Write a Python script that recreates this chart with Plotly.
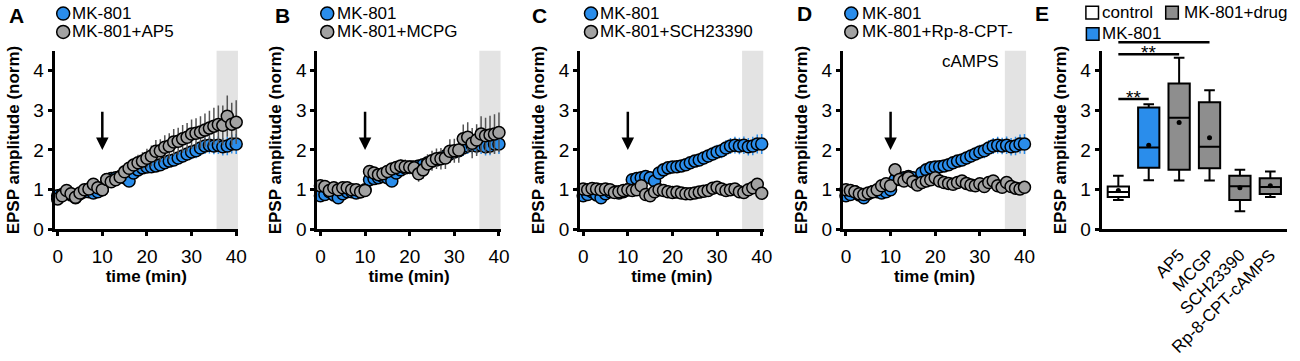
import plotly.graph_objects as go

W, H = 1300, 361

# ---------------- data ----------------
time_min = list(range(41))

mk801 = [0.85, 0.88, 0.95, 0.87, 0.80, 0.90, 0.95, 0.95, 0.92, 0.95, 1.00,
         1.25, 1.28, 1.30, 1.33, 1.30, 1.22, 1.42, 1.50, 1.55, 1.57, 1.58,
         1.60, 1.63, 1.68, 1.72, 1.75, 1.80, 1.85, 1.90, 1.95, 1.98, 2.05,
         2.10, 2.12, 2.10, 2.12, 2.08, 2.10, 2.15, 2.15]
mk801_err = [0.05, 0.05, 0.06, 0.05, 0.05, 0.06, 0.06, 0.06, 0.06, 0.06, 0.07,
             0.08, 0.09, 0.09, 0.10, 0.10, 0.10, 0.11, 0.12, 0.12, 0.13, 0.13,
             0.14, 0.14, 0.15, 0.15, 0.16, 0.17, 0.17, 0.18, 0.18, 0.19, 0.20,
             0.20, 0.21, 0.21, 0.22, 0.22, 0.23, 0.24, 0.25]

ap5 = [0.77, 0.85, 0.98, 0.90, 0.81, 0.92, 1.00, 1.02, 1.14, 1.05, 1.00,
       1.26, 1.20, 1.25, 1.32, 1.45, 1.54, 1.62, 1.68, 1.72, 1.79, 1.85,
       1.97, 1.98, 2.07, 2.10, 2.20, 2.22, 2.28, 2.32, 2.40, 2.42, 2.45,
       2.50, 2.55, 2.60, 2.64, 2.62, 2.85, 2.65, 2.70]
ap5_err = [0.05, 0.05, 0.06, 0.06, 0.06, 0.06, 0.07, 0.07, 0.08, 0.08, 0.08,
           0.10, 0.10, 0.11, 0.12, 0.14, 0.16, 0.18, 0.20, 0.22, 0.24, 0.26,
           0.28, 0.29, 0.30, 0.32, 0.33, 0.34, 0.35, 0.36, 0.37, 0.38, 0.40,
           0.42, 0.44, 0.46, 0.48, 0.50, 0.52, 0.54, 0.55]

mcpg = [1.10, 1.08, 0.98, 1.05, 1.00, 1.05, 1.05, 1.00, 1.00, 0.95, 0.98,
        1.46, 1.42, 1.38, 1.40, 1.46, 1.52, 1.56, 1.60, 1.58, 1.57, 1.55,
        1.40, 1.50, 1.65, 1.73, 1.78, 1.78, 1.80, 1.97, 1.98, 2.00, 2.28,
        2.32, 2.17, 2.25, 2.40, 2.36, 2.38, 2.40, 2.44]
mcpg_err = [0.06, 0.06, 0.06, 0.06, 0.06, 0.06, 0.06, 0.06, 0.06, 0.06, 0.06,
            0.12, 0.12, 0.13, 0.13, 0.14, 0.15, 0.16, 0.16, 0.18, 0.18, 0.20,
            0.20, 0.22, 0.24, 0.25, 0.26, 0.27, 0.28, 0.30, 0.30, 0.32, 0.36,
            0.38, 0.38, 0.40, 0.45, 0.45, 0.48, 0.50, 0.50]

sch = [1.02, 1.00, 1.03, 1.02, 1.00, 1.02, 1.00, 0.93, 0.95, 0.98, 1.00,
       0.98, 1.00, 1.10, 0.88, 0.85, 0.95, 1.00, 0.98, 0.95, 0.93, 0.94,
       0.92, 0.90, 0.90, 0.92, 0.94, 0.96, 0.98, 1.04, 1.06, 1.02, 0.98,
       1.00, 1.02, 0.95, 0.93, 1.00, 1.05, 1.14, 0.91]
sch_err = [0.05, 0.05, 0.05, 0.05, 0.05, 0.05, 0.05, 0.05, 0.05, 0.05, 0.06,
           0.06, 0.06, 0.06, 0.07, 0.07, 0.07, 0.07, 0.07, 0.07, 0.08, 0.08,
           0.08, 0.08, 0.08, 0.08, 0.08, 0.08, 0.09, 0.09, 0.09, 0.09, 0.09,
           0.09, 0.10, 0.10, 0.10, 0.10, 0.10, 0.10, 0.10]

rp = [1.00, 0.98, 0.95, 0.90, 0.88, 0.92, 0.95, 1.00, 1.10, 1.15, 1.10,
      1.50, 1.26, 1.22, 1.30, 1.20, 1.12, 1.18, 1.22, 1.25, 1.30, 1.22,
      1.18, 1.16, 1.14, 1.18, 1.22, 1.16, 1.12, 1.10, 1.15, 1.08, 1.18,
      1.22, 1.10, 1.06, 1.18, 1.08, 1.04, 1.02, 1.06]
rp_err = [0.05, 0.05, 0.05, 0.05, 0.05, 0.05, 0.05, 0.05, 0.06, 0.06, 0.06,
          0.08, 0.07, 0.07, 0.07, 0.07, 0.07, 0.07, 0.08, 0.08, 0.08, 0.08,
          0.08, 0.08, 0.08, 0.08, 0.08, 0.08, 0.08, 0.08, 0.08, 0.08, 0.09,
          0.09, 0.09, 0.09, 0.09, 0.09, 0.09, 0.09, 0.09]

panel_letters = ["A", "B", "C", "D", "E"]
drug_names = ["MK-801+AP5", "MK-801+MCPG", "MK-801+SCH23390", "MK-801+Rp-8-CPT-"]
drug_series = [ap5, mcpg, sch, rp]
drug_errs = [ap5_err, mcpg_err, sch_err, rp_err]

# panel E box statistics
box_cats = ["control", "MK-801", "AP5", "MCGP", "SCH23390", "Rp-8-CPT-cAMPS"]
box_ticktext = ["", "", "AP5", "MCGP", "SCH23390", "Rp-8-CPT-cAMPS"]
box_low = [0.74, 1.24, 1.23, 1.23, 0.46, 0.82]
box_q1 = [0.82, 1.55, 1.50, 1.54, 0.74, 0.89]
box_median = [0.94, 2.06, 2.81, 2.08, 1.09, 1.07]
box_q3 = [1.08, 3.07, 3.67, 3.20, 1.35, 1.29]
box_high = [1.35, 3.15, 4.32, 3.50, 1.50, 1.46]
box_mean = [0.98, 2.12, 2.69, 2.31, 1.05, 1.10]

# significance brackets
sig_from = ["control", "control", "control"]
sig_to = ["MK-801", "AP5", "MCGP"]
sig_level = [3.28, 4.41, 4.71]
sig_label = ["**", "**", "*"]
sig_label_x = [0.5, 1.0, 1.65]

# ---------------- style ----------------
FONT = "Liberation Sans, Arial, sans-serif"
FS = 17
BLUE = "#2A8DEB"
GRAY = "#A2A2A2"
BOX_GRAY = "#8E8E8E"
SHADE = "#E3E3E3"
Y_MAX = 4.5

x_dom_px = [(53, 238), (318, 503), (583, 768), (848, 1033), (1109, 1296)]
y_top_px, y_bot_px = 52.2, 236.7
ydom = [1 - y_bot_px / H, 1 - y_top_px / H]


def pxx(x):
    return x / W


def pxy(y):
    return 1 - y / H


fig = go.Figure()
shapes = []
annotations = []

axis_common = dict(
    showline=True, linewidth=3, linecolor="black", ticks="outside",
    ticklen=4, tickwidth=2.5, tickcolor="black", showgrid=False,
    zeroline=False, tickfont=dict(family=FONT, size=FS + 2, color="black"),
)
title_font = dict(family=FONT, size=FS, color="black", weight="bold")

layout_axes = {}
for i in range(4):
    n = i + 1
    xa, ya = f"x{n}", f"y{n}"
    fig.add_trace(go.Scatter(
        x=time_min, y=mk801, mode="markers", xaxis=xa, yaxis=ya,
        marker=dict(size=12, color=BLUE, line=dict(color="black", width=1.5)),
        error_y=dict(type="data", array=mk801_err, color=BLUE, thickness=1.5, width=0),
        showlegend=False, cliponaxis=False, name="MK-801"))
    fig.add_trace(go.Scatter(
        x=time_min, y=drug_series[i], mode="markers", xaxis=xa, yaxis=ya,
        marker=dict(size=12, color=GRAY, line=dict(color="black", width=1.5)),
        error_y=dict(type="data", array=drug_errs[i], color="#555555", thickness=1.5, width=0),
        showlegend=False, cliponaxis=False, name=drug_names[i]))
    shapes.append(dict(type="rect", xref=xa, yref=ya, x0=35.6, x1=40.4, y0=0, y1=Y_MAX,
                       fillcolor=SHADE, line=dict(width=0), layer="below"))
    annotations.append(dict(x=10, y=2.0, ax=10, ay=3.0, xref=xa, yref=ya, axref=xa, ayref=ya,
                            showarrow=True, arrowhead=2, arrowsize=1, arrowwidth=2.5,
                            arrowcolor="black", text=""))
    x0, x1 = x_dom_px[i]
    layout_axes[f"xaxis{n if n > 1 else ''}"] = dict(
        axis_common, domain=[pxx(x0), pxx(x1)], range=[-0.7, 40.4], anchor=ya,
        tickvals=[0, 10, 20, 30, 40], ticklabelstandoff=4,
        title=dict(text="time (min)", standoff=0, font=title_font))
    layout_axes[f"yaxis{n if n > 1 else ''}"] = dict(
        axis_common, domain=ydom, range=[0, Y_MAX], anchor=xa,
        tickvals=[0, 1, 2, 3, 4],
        title=dict(text="EPSP amplitude (norm)", standoff=10, font=title_font))

# ---------------- panel E ----------------
fig.add_trace(go.Box(
    x=box_cats[0:1], q1=box_q1[0:1], median=box_median[0:1], q3=box_q3[0:1],
    lowerfence=box_low[0:1], upperfence=box_high[0:1], xaxis="x5", yaxis="y5",
    fillcolor="white", line=dict(color="black", width=2), width=0.7,
    whiskerwidth=0.5, boxpoints=False, showlegend=False, name="control"))
fig.add_trace(go.Box(
    x=box_cats[1:2], q1=box_q1[1:2], median=box_median[1:2], q3=box_q3[1:2],
    lowerfence=box_low[1:2], upperfence=box_high[1:2], xaxis="x5", yaxis="y5",
    fillcolor=BLUE, line=dict(color="black", width=2), width=0.7,
    whiskerwidth=0.5, boxpoints=False, showlegend=False, name="MK-801"))
fig.add_trace(go.Box(
    x=box_cats[2:], q1=box_q1[2:], median=box_median[2:], q3=box_q3[2:],
    lowerfence=box_low[2:], upperfence=box_high[2:], xaxis="x5", yaxis="y5",
    fillcolor=BOX_GRAY, line=dict(color="black", width=2), width=0.7,
    whiskerwidth=0.5, boxpoints=False, showlegend=False, name="MK-801+drug"))
fig.add_trace(go.Scatter(
    x=box_cats, y=box_mean, mode="markers", xaxis="x5", yaxis="y5",
    marker=dict(size=5, color="black"), showlegend=False, name="mean"))

x0, x1 = x_dom_px[4]
layout_axes["xaxis5"] = dict(
    axis_common, domain=[pxx(x0), pxx(x1)], type="category",
    categoryorder="array", categoryarray=box_cats, range=[-0.55, 5.55], anchor="y5",
    ticks="", tickvals=box_cats, ticktext=box_ticktext, tickangle=-45,
    ticklabelstandoff=6, tickfont=dict(family=FONT, size=FS, color="black"))
layout_axes["yaxis5"] = dict(
    axis_common, domain=ydom, range=[0, Y_MAX], anchor="x5", tickvals=[0, 1, 2, 3, 4],
    title=dict(text="EPSP amplitude (norm)", standoff=10, font=title_font))

for a, b, lvl, lab, lx, ysh in zip(sig_from, sig_to, sig_level, sig_label, sig_label_x,
                                   [2, 2, 3]):
    shapes.append(dict(type="line", xref="x5", yref="y5 domain", x0=a, x1=b,
                       y0=lvl / Y_MAX, y1=lvl / Y_MAX, line=dict(color="black", width=2.5)))
    annotations.append(dict(x=lx, y=lvl, xref="x5", yref="y5", text=lab,
                            showarrow=False, yanchor="middle", yshift=ysh,
                            font=dict(family=FONT, size=19, color="black")))

# ---------------- legends & panel letters ----------------
letter_pos = [(15, 15.5), (282.5, 15.5), (542.5, 15.5), (809, 14), (1049, 13.5)]
for L, (lx, ly) in zip(panel_letters, letter_pos):
    annotations.append(dict(x=pxx(lx), y=pxy(ly), xref="paper", yref="paper", text=L,
                            showarrow=False, xanchor="center", yanchor="middle",
                            font=dict(family=FONT, size=21, color="black", weight="bold")))

leg_circle_x = [61.7, 328, 594, 856.5]
leg_text_x = [69, 335.5, 601.5, 865]
for i in range(4):
    cx, tx = leg_circle_x[i], leg_text_x[i]
    for cy, col, txt in [(14, BLUE, "MK-801"), (33, GRAY, drug_names[i])]:
        shapes.append(dict(type="circle", xref="paper", yref="paper",
                           xsizemode="pixel", ysizemode="pixel",
                           xanchor=pxx(cx), yanchor=pxy(cy), x0=-6.5, x1=6.5, y0=-6.5, y1=6.5,
                           fillcolor=col, line=dict(color="black", width=1.5)))
        annotations.append(dict(x=pxx(tx), y=pxy(cy), xref="paper", yref="paper", text=txt,
                                showarrow=False, xanchor="left", yanchor="middle",
                                font=dict(family=FONT, size=FS, color="black")))
annotations.append(dict(x=pxx(946), y=pxy(63), xref="paper", yref="paper", text="cAMPS",
                        showarrow=False, xanchor="left", yanchor="middle",
                        font=dict(family=FONT, size=FS, color="black")))

# panel E legend squares
sq = [(1099.5, 13, "white", "control", 1107.5),
      (1180, 13, BOX_GRAY, "MK-801+drug", 1190),
      (1100, 35, BLUE, "MK-801", 1107.5)]
for cx, cy, col, txt, tx in sq:
    shapes.append(dict(type="rect", xref="paper", yref="paper",
                       xsizemode="pixel", ysizemode="pixel",
                       xanchor=pxx(cx), yanchor=pxy(cy), x0=-6.3, x1=6.3, y0=-6.3, y1=6.3,
                       fillcolor=col, line=dict(color="black", width=1.5)))
    annotations.append(dict(x=pxx(tx), y=pxy(cy), xref="paper", yref="paper", text=txt,
                            showarrow=False, xanchor="left", yanchor="middle",
                            font=dict(family=FONT, size=FS, color="black")))

fig.update_layout(
    width=W, height=H, autosize=False, margin=dict(l=0, r=0, t=0, b=0),
    paper_bgcolor="white", plot_bgcolor="white", boxmode="overlay",
    font=dict(family=FONT, size=FS, color="black"),
    shapes=shapes, annotations=annotations, **layout_axes)

# remove the browser's default 8px body margin so the figure sits at the page origin
page_fix = "document.body.style.margin='0';document.body.style.overflow='hidden';"
fig.write_html("out.html", config={"displayModeBar": False, "responsive": False},
               post_script=page_fix)
